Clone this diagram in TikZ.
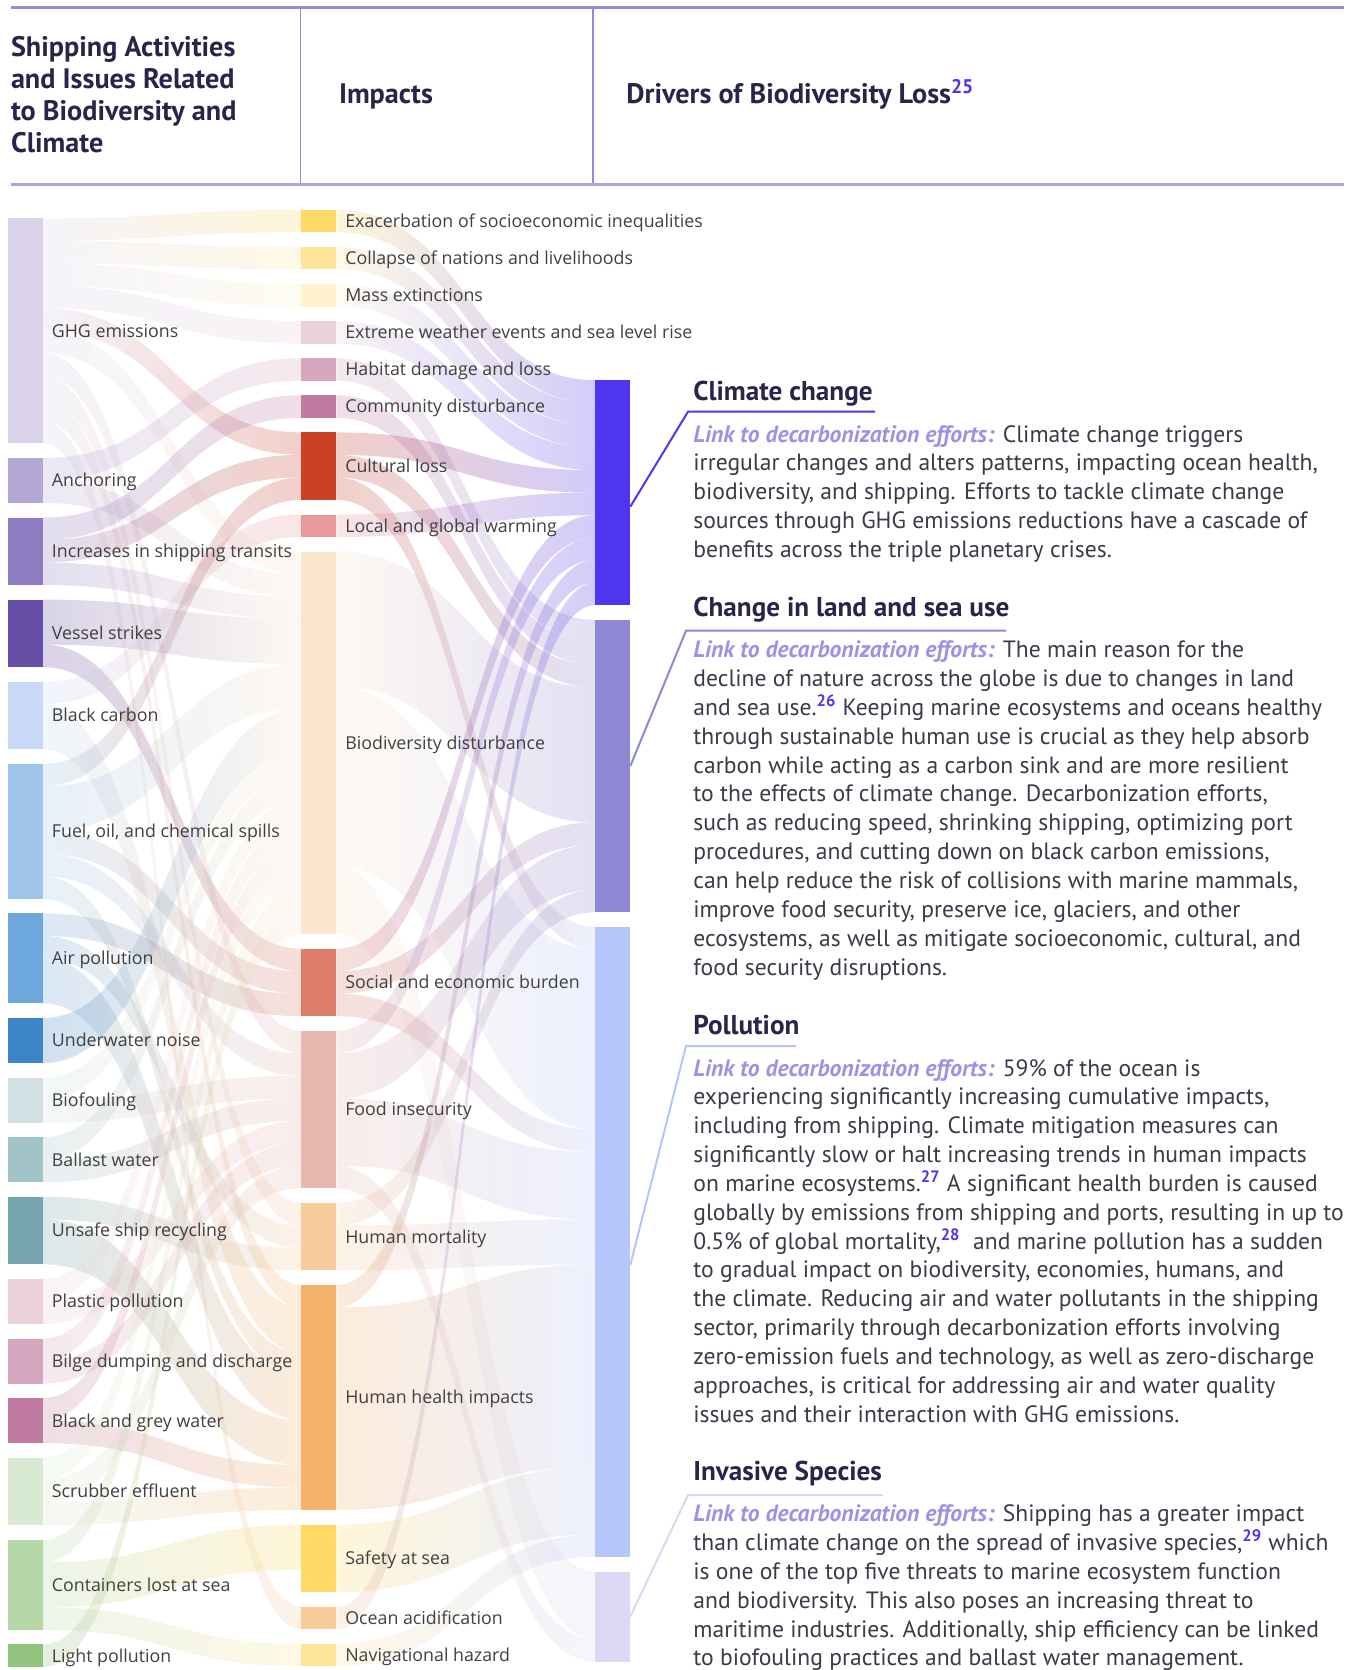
\documentclass[tikz,border=0pt]{standalone}
\usepackage{fontspec}
\setmainfont{PT Sans}
\newfontfamily\labfont{Open Sans}
\pgfdeclarelayer{ribbons}
\pgfsetlayers{ribbons,main}

\definecolor{hdrline}{HTML}{958ADE}
\definecolor{hdrline2}{HTML}{ADA4E8}
\definecolor{headc}{HTML}{27264A}
\definecolor{bodyc}{HTML}{3A3A48}
\definecolor{linkc}{HTML}{9D91E6}
\definecolor{supc}{HTML}{4F35EE}
\definecolor{labc}{HTML}{404040}
% left column
\definecolor{cghg}{HTML}{D9D2E9}
\definecolor{canc}{HTML}{B4A7D6}
\definecolor{cinc}{HTML}{8E7CC3}
\definecolor{cves}{HTML}{674EA7}
\definecolor{cbcb}{HTML}{C9DAF8}
\definecolor{cfue}{HTML}{9FC5E8}
\definecolor{cair}{HTML}{6FA8DC}
\definecolor{cund}{HTML}{3D85C6}
\definecolor{cbio}{HTML}{D0E0E3}
\definecolor{cbal}{HTML}{A2C4C9}
\definecolor{cuns}{HTML}{76A5AF}
\definecolor{cpla}{HTML}{EAD1DC}
\definecolor{cbil}{HTML}{D5A6BD}
\definecolor{cbgw}{HTML}{C27BA0}
\definecolor{cscr}{HTML}{D9EAD3}
\definecolor{ccon}{HTML}{B6D7A8}
\definecolor{clig}{HTML}{93C47D}
% middle column
\definecolor{cexa}{HTML}{FFD966}
\definecolor{ccol}{HTML}{FFE599}
\definecolor{cmas}{HTML}{FFF2CC}
\definecolor{cext}{HTML}{EAD1DC}
\definecolor{chab}{HTML}{D5A6BD}
\definecolor{ccom}{HTML}{C27BA0}
\definecolor{ccul}{HTML}{CC4125}
\definecolor{cloc}{HTML}{EA9999}
\definecolor{cbdv}{HTML}{FCE5CD}
\definecolor{csoc}{HTML}{DD7E6B}
\definecolor{cfoo}{HTML}{E6B8AF}
\definecolor{cmor}{HTML}{F9CB9C}
\definecolor{chea}{HTML}{F6B26B}
\definecolor{csaf}{HTML}{FFD966}
\definecolor{coce}{HTML}{F9CB9C}
\definecolor{cnav}{HTML}{FFE599}
% right column
\definecolor{ccli}{HTML}{4F35EE}
\definecolor{clan}{HTML}{8E87D6}
\definecolor{cpol}{HTML}{B6C5FA}
\definecolor{cinv}{HTML}{DAD8F2}

% all coordinates are in px of the reference; 1 px = 0.5pt
\tikzset{
  skbar/.style={rectangle, inner sep=0pt, outer sep=0pt, minimum width=17.5pt, draw=none},
  sklabel/.style={font=\labfont\fontsize{8.9}{10}\selectfont, text=labc, inner sep=0pt},
  ribbon/.style={fill opacity=0.25, draw=none},
  hdr/.style={font=\bfseries\fontsize{14.1}{16}\selectfont, text=headc, inner sep=0pt, anchor=base west},
  sechead/.style={font=\bfseries\fontsize{13.6}{16}\selectfont, text=headc, inner sep=0pt, anchor=base west},
  body/.style={font=\fontsize{11.8}{14}\selectfont, text=bodyc, inner sep=0pt, anchor=base west},
}

\def\U{22.5}
\def\G{14.6}
\newcommand\gset[2]{\expandafter\xdef\csname #1\endcsname{#2}}
\newcommand\gget[1]{\csname #1\endcsname}
\newcommand\lnk{{\bfseries\itshape\color{linkc}Link to decarbonization efforts:}}
\newcommand\fn[1]{\textsuperscript{\bfseries\color{supc}#1}}

% name, units, x, label
\newcommand\sknode[4]{%
  \pgfmathsetmacro\skh{#2*\U}%
  \pgfmathsetmacro\skhh{#2*\U*0.5}%
  \node[skbar, fill=c#1, minimum height=\skhh pt, anchor=north west] (#1) at (#3,\skrun) {};%
  \gset{off#1}{0}\gset{in#1}{0}%
  \if\relax\detokenize{#4}\relax\else
    \node[sklabel, anchor=base west] (#1-l) at ([xshift=4.25pt,yshift=-3.2pt]#1.east) {#4};%
  \fi
  \pgfmathsetmacro\sknext{\skrun+\skh+\G}\xdef\skrun{\sknext}%
}
% source, target, units  (offsets kept in pt = px/2)
\newcommand\skflow[3]{%
  \pgfmathsetmacro\fa{\gget{off#1}}%
  \pgfmathsetmacro\fb{\gget{in#2}}%
  \pgfmathsetmacro\fc{\fa+#3*\U*0.5}%
  \pgfmathsetmacro\fd{\fb+#3*\U*0.5}%
  \begin{pgfonlayer}{ribbons}
  \path[ribbon, left color=c#1, right color=c#2]
    ([yshift=-\fa pt]#1.north east) to[out=0,in=180,distance=64.5pt] ([yshift=-\fb pt]#2.north west)
    -- ([yshift=-\fd pt]#2.north west) to[out=180,in=0,distance=64.5pt] ([yshift=-\fc pt]#1.north east) -- cycle;
  \end{pgfonlayer}
  \gset{off#1}{\fc}\gset{in#2}{\fd}%
}

\begin{document}
\begin{tikzpicture}[x=0.5pt,y=-0.5pt]
\useasboundingbox (0,0) rectangle (1346,1670);

% ---------- header ----------
\draw[hdrline, line width=1.1pt] (10.6,7.5) -- (1344,7.5);
\draw[hdrline, line width=0.75pt] (300.3,8.5) -- (300.3,183.5);
\draw[hdrline, line width=0.75pt] (593,8.5) -- (593,183.5);
\draw[hdrline2, line width=1.3pt] (10.6,184.5) -- (1344,184.5);
\node[hdr] (h1) at (10.6,56.5) {Shipping Activities};
\node[hdr] (h2) at (10.6,88.5) {and Issues Related};
\node[hdr] (h3) at (10.6,120.5) {to Biodiversity and};
\node[hdr] (h4) at (10.6,152.5) {Climate};
\node[hdr] (h5) at (338.6,103.5) {Impacts};
\node[hdr] (h6) at (626,103.5) {Drivers of Biodiversity Loss\fn{25}};

% ---------- left column ----------
\xdef\skrun{218.3}
\sknode{ghg}{10}{8}{GHG emissions}
\sknode{anc}{2}{8}{Anchoring}
\sknode{inc}{3}{8}{Increases in shipping transits}
\sknode{ves}{3}{8}{Vessel strikes}
\sknode{bcb}{3}{8}{Black carbon}
\sknode{fue}{6}{8}{Fuel, oil, and chemical spills}
\sknode{air}{4}{8}{Air pollution}
\sknode{und}{2}{8}{Underwater noise}
\sknode{bio}{2}{8}{Biofouling}
\sknode{bal}{2}{8}{Ballast water}
\sknode{uns}{3}{8}{Unsafe ship recycling}
\sknode{pla}{2}{8}{Plastic pollution}
\sknode{bil}{2}{8}{Bilge dumping and discharge}
\sknode{bgw}{2}{8}{Black and grey water}
\sknode{scr}{3}{8}{Scrubber effluent}
\sknode{con}{4}{8}{Containers lost at sea}
\sknode{lig}{1}{8}{Light pollution}

% ---------- middle column ----------
\xdef\skrun{209.8}
\sknode{exa}{1}{301.4}{Exacerbation of socioeconomic inequalities}
\sknode{col}{1}{301.4}{Collapse of nations and livelihoods}
\sknode{mas}{1}{301.4}{Mass extinctions}
\sknode{ext}{1}{301.4}{Extreme weather events and sea level rise}
\sknode{hab}{1}{301.4}{Habitat damage and loss}
\sknode{com}{1}{301.4}{Community disturbance}
\sknode{cul}{3}{301.4}{Cultural loss}
\sknode{loc}{1}{301.4}{Local and global warming}
\sknode{bdv}{17}{301.4}{Biodiversity disturbance}
\sknode{soc}{3}{301.4}{Social and economic burden}
\sknode{foo}{7}{301.4}{Food insecurity}
\sknode{mor}{3}{301.4}{Human mortality}
\sknode{hea}{10}{301.4}{Human health impacts}
\sknode{saf}{3}{301.4}{Safety at sea}
\sknode{oce}{1}{301.4}{Ocean acidification}
\sknode{nav}{1}{301.4}{Navigational hazard}

% ---------- right column ----------
\xdef\skrun{380.2}
\sknode{cli}{10}{595.3}{}
\sknode{lan}{13}{595.3}{}
\sknode{pol}{28}{595.3}{}
\sknode{inv}{4}{595.3}{}

% ---------- flows: activities -> impacts ----------
\skflow{ghg}{exa}{1}
\skflow{ghg}{col}{1}
\skflow{ghg}{mas}{1}
\skflow{ghg}{ext}{1}
\skflow{ghg}{cul}{1}
\skflow{ghg}{bdv}{1}
\skflow{ghg}{foo}{1}
\skflow{ghg}{mor}{1}
\skflow{ghg}{hea}{1}
\skflow{ghg}{oce}{1}
\skflow{anc}{hab}{1}
\skflow{anc}{bdv}{1}
\skflow{inc}{com}{1}
\skflow{inc}{cul}{1}
\skflow{inc}{bdv}{1}
\skflow{ves}{bdv}{2}
\skflow{ves}{soc}{1}
\skflow{bcb}{loc}{1}
\skflow{bcb}{hea}{2}
\skflow{fue}{cul}{1}
\skflow{fue}{bdv}{2}
\skflow{fue}{soc}{1}
\skflow{fue}{foo}{1}
\skflow{fue}{hea}{1}
\skflow{air}{soc}{1}
\skflow{air}{mor}{1}
\skflow{air}{hea}{2}
\skflow{und}{bdv}{2}
\skflow{bio}{bdv}{1}
\skflow{bio}{foo}{1}
\skflow{bal}{bdv}{1}
\skflow{bal}{foo}{1}
\skflow{uns}{mor}{1}
\skflow{uns}{hea}{2}
\skflow{pla}{bdv}{1}
\skflow{pla}{foo}{1}
\skflow{bil}{bdv}{1}
\skflow{bil}{foo}{1}
\skflow{bgw}{bdv}{1}
\skflow{bgw}{hea}{1}
\skflow{scr}{bdv}{1}
\skflow{scr}{foo}{1}
\skflow{scr}{hea}{1}
\skflow{con}{bdv}{1}
\skflow{con}{saf}{2}
\skflow{con}{nav}{1}
\skflow{lig}{bdv}{1}

% ---------- flows: impacts -> drivers ----------
\skflow{exa}{cli}{1}
\skflow{col}{cli}{1}
\skflow{mas}{cli}{1}
\skflow{ext}{cli}{1}
\skflow{hab}{lan}{1}
\skflow{com}{lan}{1}
\skflow{cul}{cli}{1}
\skflow{cul}{lan}{1}
\skflow{cul}{pol}{1}
\skflow{loc}{cli}{1}
\skflow{bdv}{lan}{6}
\skflow{bdv}{pol}{8}
\skflow{bdv}{inv}{3}
\skflow{soc}{cli}{1}
\skflow{soc}{lan}{1}
\skflow{soc}{pol}{1}
\skflow{foo}{cli}{1}
\skflow{foo}{lan}{2}
\skflow{foo}{pol}{3}
\skflow{foo}{inv}{1}
\skflow{mor}{lan}{1}
\skflow{mor}{pol}{2}
\skflow{hea}{cli}{1}
\skflow{hea}{pol}{9}
\skflow{saf}{pol}{3}
\skflow{oce}{cli}{1}
\skflow{nav}{pol}{1}

% ---------- text panel ----------
% Climate change
\node[sechead] (cc-h) at (693,400.7) {Climate change};
\coordinate (cc-a) at (688,411.7);
\coordinate (cc-b) at (875,411.7);
\draw[ccli, line width=1pt] ([yshift=-7pt]cli.east) -- (cc-a) -- (cc-b);
\foreach \t [count=\k from 0] in {
  {\lnk{} Climate change triggers},
  {irregular changes and alters patterns, impacting ocean health,},
  {biodiversity, and shipping. Efforts to tackle climate change},
  {sources through GHG emissions reductions have a cascade of},
  {benefits across the triple planetary crises.}}
  \node[body] (cc-\k) at (693,{442+\k*28.85}) {\t};

% Change in land and sea use
\node[sechead] (lu-h) at (693,616.7) {Change in land and sea use};
\coordinate (lu-a) at (686,630.7);
\coordinate (lu-b) at (1006,630.7);
\draw[clan, line width=1pt] (lan.east) -- (lu-a) -- (lu-b);
\foreach \t [count=\k from 0] in {
  {\lnk{} The main reason for the},
  {decline of nature across the globe is due to changes in land},
  {and sea use.\fn{26} Keeping marine ecosystems and oceans healthy},
  {through sustainable human use is crucial as they help absorb},
  {carbon while acting as a carbon sink and are more resilient},
  {to the effects of climate change. Decarbonization efforts,},
  {such as reducing speed, shrinking shipping, optimizing port},
  {procedures, and cutting down on black carbon emissions,},
  {can help reduce the risk of collisions with marine mammals,},
  {improve food security, preserve ice, glaciers, and other},
  {ecosystems, as well as mitigate socioeconomic, cultural, and},
  {food security disruptions.}}
  \node[body] (lu-\k) at (693,{657.7+\k*28.85}) {\t};

% Pollution
\node[sechead] (po-h) at (693,1034.3) {Pollution};
\coordinate (po-a) at (686,1046);
\coordinate (po-b) at (796,1046);
\draw[cpol, line width=1pt] ([yshift=-11.5pt]pol.east) -- (po-a) -- (po-b);
\foreach \t [count=\k from 0] in {
  {\lnk{} 59\% of the ocean is},
  {experiencing significantly increasing cumulative impacts,},
  {including from shipping. Climate mitigation measures can},
  {significantly slow or halt increasing trends in human impacts},
  {on marine ecosystems.\fn{27} A significant health burden is caused},
  {globally by emissions from shipping and ports, resulting in up to},
  {0.5\% of global mortality,\fn{28}\ \ and marine pollution has a sudden},
  {to gradual impact on biodiversity, economies, humans, and},
  {the climate. Reducing air and water pollutants in the shipping},
  {sector, primarily through decarbonization efforts involving},
  {zero-emission fuels and technology, as well as zero-discharge},
  {approaches, is critical for addressing air and water quality},
  {issues and their interaction with GHG emissions.}}
  \node[body] (po-\k) at (693,{1076+\k*28.85}) {\t};

% Invasive Species
\node[sechead] (is-h) at (693,1480) {Invasive Species};
\coordinate (is-a) at (688,1495);
\coordinate (is-b) at (883,1495);
\draw[cinv, line width=1pt] (inv.east) -- (is-a) -- (is-b);
\foreach \t [count=\k from 0] in {
  {\lnk{} Shipping has a greater impact},
  {than climate change on the spread of invasive species,\fn{29} which},
  {is one of the top five threats to marine ecosystem function},
  {and biodiversity. This also poses an increasing threat to},
  {maritime industries. Additionally, ship efficiency can be linked},
  {to biofouling practices and ballast water management.}}
  \node[body] (is-\k) at (693,{1521.7+\k*28.85}) {\t};
\end{tikzpicture}
\end{document}
